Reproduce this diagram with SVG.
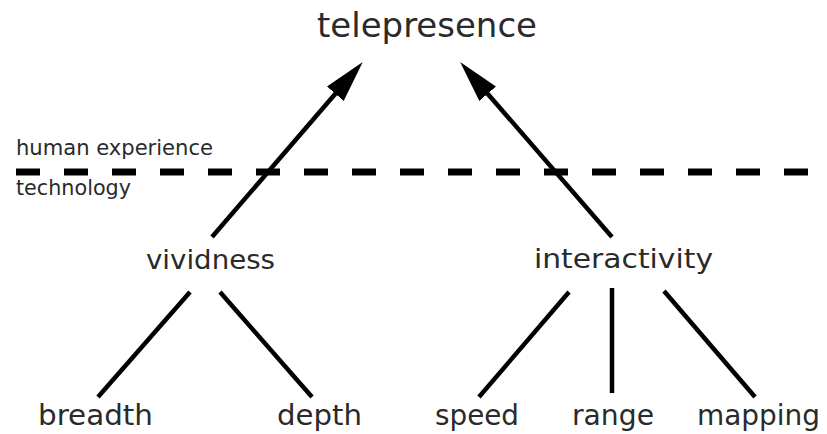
<svg xmlns="http://www.w3.org/2000/svg" width="827" height="434" viewBox="0 0 827 434">
<style>
text{font-family:"DejaVu Sans","Liberation Sans",sans-serif;fill:#2a2a2a}
.big{font-size:33px}
.mid{font-size:26px}
.low{font-size:29px}
.small{font-size:21px}
.edge{stroke:#000;stroke-width:4.5;fill:none}
.dash{stroke:#000;stroke-width:7;stroke-dasharray:24 24;fill:none}
</style>
<defs>
<marker id="ah" markerUnits="userSpaceOnUse" viewBox="0 0 42 22" refX="1" refY="11" markerWidth="42" markerHeight="22" orient="auto">
<path d="M0,0 L42,11 L0,22 z" fill="#000"/>
</marker>
</defs>
<rect width="827" height="434" fill="#fff"/>
<g id="boundary">
<line class="dash" x1="16" y1="172" x2="808" y2="172"/>
<text class="small" x="16" y="155" textLength="197" lengthAdjust="spacingAndGlyphs">human experience</text>
<text class="small" x="16" y="195" textLength="115" lengthAdjust="spacingAndGlyphs">technology</text>
</g>
<g id="connectors">
<line class="edge" x1="212" y1="237" x2="336" y2="93" marker-end="url(#ah)"/>
<line class="edge" x1="612" y1="237" x2="487" y2="93" marker-end="url(#ah)"/>
<line class="edge" x1="190" y1="292" x2="98" y2="397"/>
<line class="edge" x1="220" y1="292" x2="312" y2="397"/>
<line class="edge" x1="569" y1="292" x2="479" y2="397"/>
<line class="edge" x1="612" y1="288" x2="612" y2="393"/>
<line class="edge" x1="664" y1="291" x2="755" y2="397"/>
</g>
<g id="telepresence"><text class="big" x="317" y="37" textLength="220" lengthAdjust="spacingAndGlyphs">telepresence</text></g>
<g id="vividness"><text class="mid" x="146" y="269" textLength="129" lengthAdjust="spacingAndGlyphs">vividness</text></g>
<g id="interactivity"><text class="mid" x="534" y="268" textLength="179" lengthAdjust="spacingAndGlyphs">interactivity</text></g>
<g id="breadth"><text class="low" x="38" y="425" textLength="115" lengthAdjust="spacingAndGlyphs">breadth</text></g>
<g id="depth"><text class="low" x="277" y="425" textLength="85" lengthAdjust="spacingAndGlyphs">depth</text></g>
<g id="speed"><text class="low" x="435" y="425" textLength="84" lengthAdjust="spacingAndGlyphs">speed</text></g>
<g id="range"><text class="low" x="572" y="425" textLength="82" lengthAdjust="spacingAndGlyphs">range</text></g>
<g id="mapping"><text class="low" x="697" y="425" textLength="123" lengthAdjust="spacingAndGlyphs">mapping</text></g>
</svg>
